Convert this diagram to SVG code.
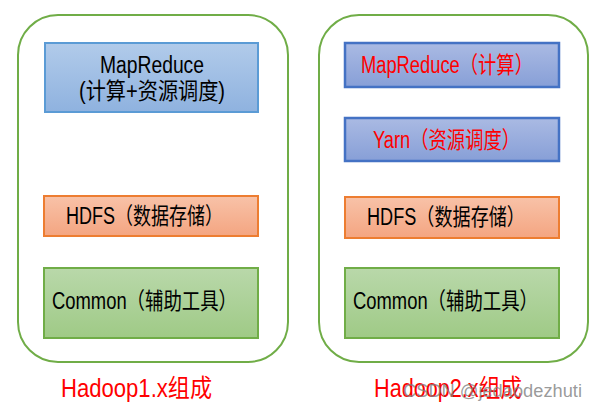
<svg xmlns="http://www.w3.org/2000/svg" width="597" height="410" viewBox="0 0 597 410">
<style>
text{font-family:"Liberation Sans","Noto Sans CJK SC",sans-serif;}
.t{font-size:23px;fill:#000;}
.r{font-size:23px;fill:#ff0000;}
.title{font-size:25px;fill:#ff0000;}
.wm{font-size:18px;fill:#7f7f7f;fill-opacity:0.8;}
.cont{fill:#fff;stroke:#70ad47;stroke-width:2;}
.b1{fill:url(#gB1);stroke:#5b9bd5;stroke-width:2;}
.b2{fill:url(#gB2);stroke:#4472c4;stroke-width:2.5;}
.o{fill:url(#gO);stroke:#ed7d31;stroke-width:2;}
.g{fill:url(#gG);stroke:#70ad47;stroke-width:2;}
</style>
<defs>
<linearGradient id="gB1" x1="0" y1="0" x2="0" y2="1"><stop offset="0" stop-color="#b1cbea"/><stop offset="1" stop-color="#8fb2df"/></linearGradient>
<linearGradient id="gB2" x1="0" y1="0" x2="0" y2="1"><stop offset="0" stop-color="#aabae3"/><stop offset="1" stop-color="#879fd7"/></linearGradient>
<linearGradient id="gO" x1="0" y1="0" x2="0" y2="1"><stop offset="0" stop-color="#f8c2a8"/><stop offset="1" stop-color="#f4a581"/></linearGradient>
<linearGradient id="gG" x1="0" y1="0" x2="0" y2="1"><stop offset="0" stop-color="#b9d8aa"/><stop offset="1" stop-color="#9fca86"/></linearGradient>
</defs>
<g id="hadoop1">
<rect class="cont" x="18" y="15" width="270" height="347" rx="40"/>
</g>
<g id="hadoop2">
<rect class="cont" x="319" y="15" width="269" height="347" rx="40"/>
</g>
<g id="connectors"></g>
<g id="mr1">
<rect class="b1" x="45" y="43" width="213" height="69"/>
<text class="t" x="100" y="73" textLength="104" lengthAdjust="spacingAndGlyphs">MapReduce</text>
<text class="t" x="79" y="99" textLength="146" lengthAdjust="spacingAndGlyphs">(计算+资源调度)</text>
</g>
<g id="hdfs1">
<rect class="o" x="44" y="196" width="214" height="40"/>
<text class="t" x="66" y="224" textLength="157" lengthAdjust="spacingAndGlyphs">HDFS（数据存储）</text>
</g>
<g id="common1">
<rect class="g" x="44" y="268" width="214" height="70"/>
<text class="t" x="52" y="309" textLength="185" lengthAdjust="spacingAndGlyphs">Common（辅助工具）</text>
</g>
<g id="mr2">
<rect class="b2" x="345" y="43" width="214" height="44"/>
<text class="r" x="361" y="73" textLength="172" lengthAdjust="spacingAndGlyphs">MapReduce（计算）</text>
</g>
<g id="yarn2">
<rect class="b2" x="345" y="118" width="214" height="43"/>
<text class="r" x="373" y="148" textLength="147" lengthAdjust="spacingAndGlyphs">Yarn（资源调度）</text>
</g>
<g id="hdfs2">
<rect class="o" x="345" y="197" width="214" height="41"/>
<text class="t" x="367" y="225" textLength="158" lengthAdjust="spacingAndGlyphs">HDFS（数据存储）</text>
</g>
<g id="common2">
<rect class="g" x="345" y="268" width="214" height="70"/>
<text class="t" x="353" y="309" textLength="185" lengthAdjust="spacingAndGlyphs">Common（辅助工具）</text>
</g>
<g id="label1">
<text class="title" x="61" y="397" textLength="151" lengthAdjust="spacingAndGlyphs">Hadoop1.x组成</text>
</g>
<g id="label2">
<text class="title" x="374" y="397" textLength="148" lengthAdjust="spacingAndGlyphs">Hadoop2.x组成</text>
</g>
<text class="wm" x="403" y="397" textLength="179" lengthAdjust="spacingAndGlyphs">CSDN @jedaodezhuti</text>
</svg>
